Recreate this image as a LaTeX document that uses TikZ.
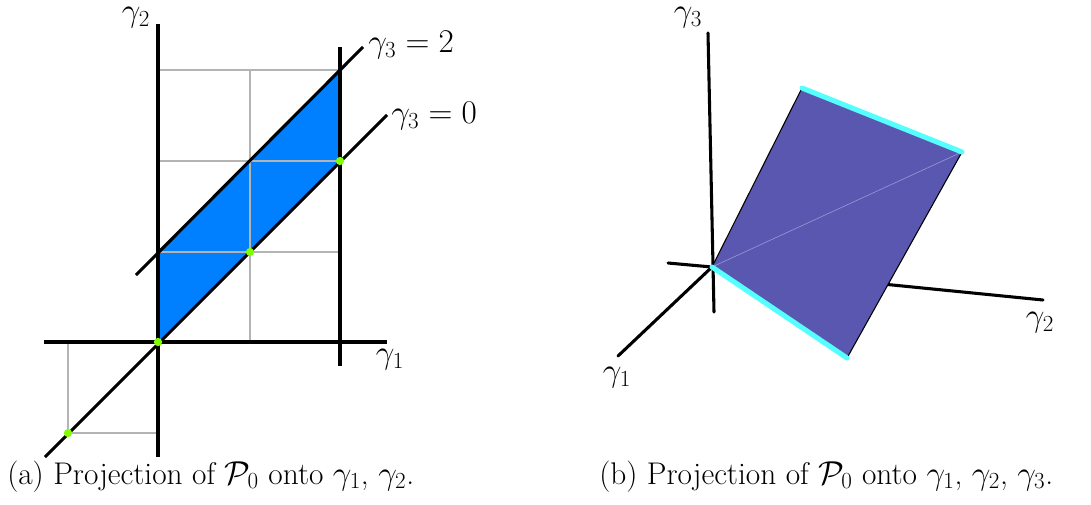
\documentclass[tikz,border=0pt]{standalone}
\usepackage{amsmath}
\usepackage{amssymb}
\usepackage{tikz}

\definecolor{regionblue}{RGB}{0,128,255}
\definecolor{facepurple}{RGB}{90,87,176}
\definecolor{edgecyan}{RGB}{85,255,255}
\definecolor{pointgreen}{RGB}{128,255,0}

\tikzset{
  axisline/.style={line width=2.3pt, line cap=round},
  gridline/.style={color={rgb,255:red,180;green,180;blue,180}, line width=1.1pt},
  edgeline/.style={edgecyan, line width=3.8pt, line cap=round},
  lbl/.style={inner sep=0pt, font=\fontsize{23.5}{28}\selectfont},
}

\begin{document}
\begin{tikzpicture}[x=0.75pt,y=0.75pt,yscale=-1,xscale=1]
        \path[use as bounding box] (0,0) rectangle (1091,504);

        %Shape: Grid (left)
        \draw [gridline] (158,70) -- (340,70) (158,161) -- (340,161) (158,252) -- (340,252) ;
        \draw [gridline] (250,70) -- (250,342) ;
        \draw [gridline] (68,342) -- (68,433) -- (158,433) ;
        %Shape: Region between the two planes
        \fill [regionblue] (158,342) -- (158,252) -- (340,70) -- (340,161) -- cycle ;
        \draw [gridline] (158,161) -- (340,161) (158,252) -- (340,252) (250,161) -- (250,342) ;
        %Straight Lines: axes
        \draw [axisline, line cap=butt] (158,24) -- (158,457) ;
        \draw [axisline, line cap=butt] (44,342) -- (387,342) ;
        \draw [axisline, line cap=butt] (340,47) -- (340,366) ;
        %Straight Lines: gamma_3 = 0 and gamma_3 = 2
        \draw [axisline, line cap=butt] (45,457) -- (387,115) ;
        \draw [axisline, line cap=butt] (136,275) -- (363,47) ;
        %Shape: Circles
        \foreach \px/\py in {158/342, 250/252, 340/161, 68/433}
          \fill [pointgreen] (\px,\py) circle [radius=3.1pt] ;

        % Text Node
        \node [lbl] (g2a) at (136,18) {$\gamma_2$};
        % Text Node
        \node [lbl] (g1a) at (390,360) {$\gamma_1$};
        % Text Node
        \node [lbl, anchor=west] (plane2) at (368,45) {$\gamma_3 = 2$};
        % Text Node
        \node [lbl, anchor=west] (plane0) at (391,116) {$\gamma_3 = 0$};

        %Straight Lines: 3d axes
        \draw [axisline] (668,263) -- (712,267) ;
        \draw [axisline] (712,267) -- (618,356) ;
        \draw [axisline] (712,267) -- (1043,300) ;
        \draw [axisline] (708,33) -- (714,312) ;
        %Shape: Face
        \draw [fill=facepurple, line width=0.8pt] (712,267) -- (802,88) -- (962,152) -- (847,358) -- cycle ;
        \draw [color={rgb,255:red,150;green,148;blue,215}, line width=0.5pt] (712,267) -- (962,152) ;
        %Straight Lines: highlighted edges
        \draw [edgeline] (802,88) -- (962,152) ;
        \draw [edgeline] (712,267) -- (847,358) ;

        % Text Node
        \node [lbl] (g3b) at (688,18) {$\gamma_3$};
        % Text Node
        \node [lbl] (g2b) at (1040,323) {$\gamma_2$};
        % Text Node
        \node [lbl] (g1b) at (617,378) {$\gamma_1$};

        % Text Node
        \node [lbl, anchor=base west] (capa) at (7,484) {(a) Projection of $\mathcal{P}_0$ onto $\gamma_1$, $\gamma_2$.};
        % Text Node
        \node [lbl, anchor=base west] (capb) at (599,484) {(b) Projection of $\mathcal{P}_0$ onto $\gamma_1$, $\gamma_2$, $\gamma_3$.};

    \end{tikzpicture}
\end{document}
